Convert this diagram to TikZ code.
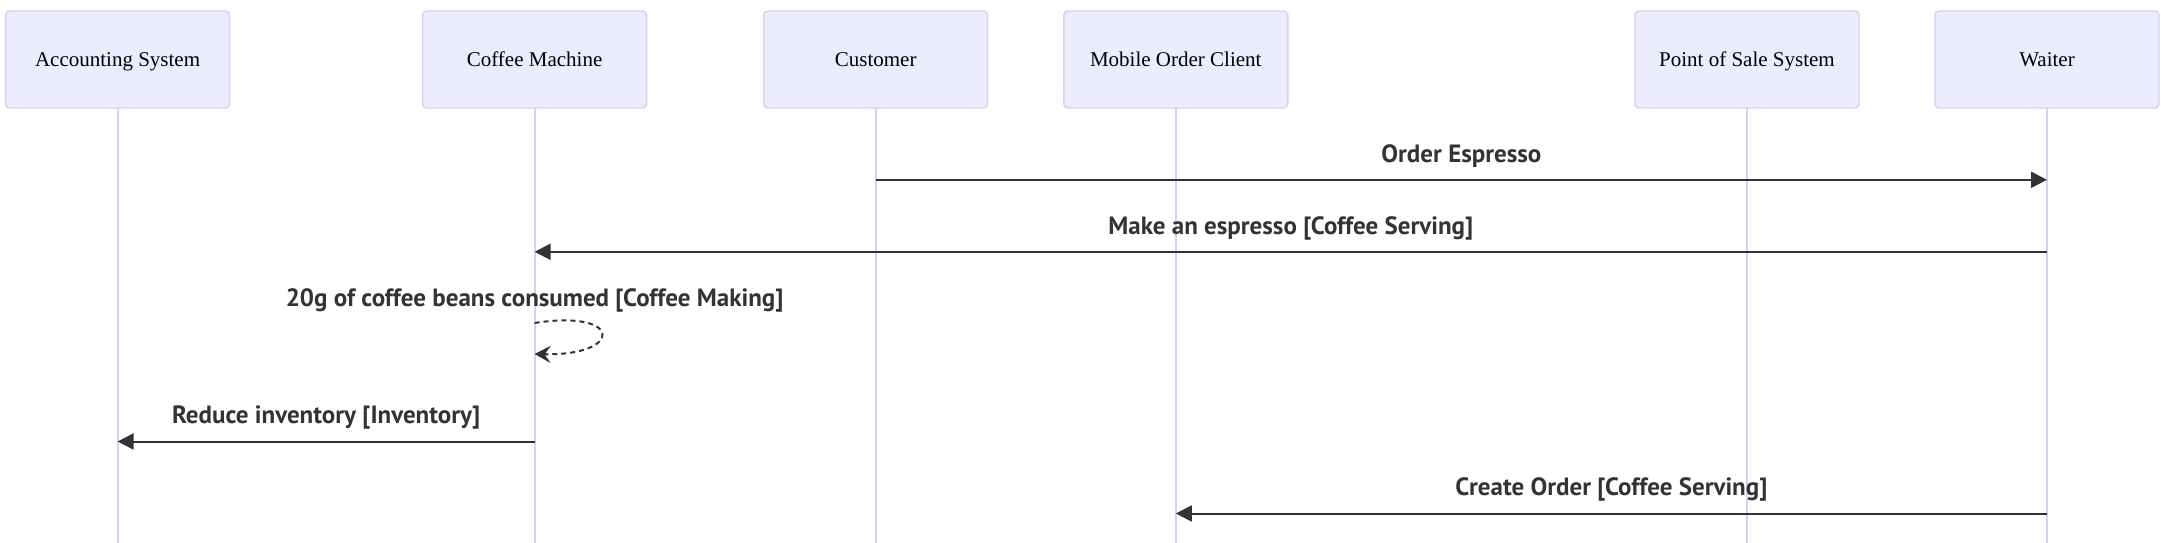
\documentclass[tikz,border=0pt]{standalone}
\usepackage{fontspec}
\setmainfont{Liberation Serif}
\newfontfamily\msgfont{PT Sans}
\usetikzlibrary{arrows.meta,calc}
\definecolor{actbg}{HTML}{ECECFF}
\definecolor{actborder}{RGB}{218,206,242}
\definecolor{lineclr}{HTML}{333333}
\tikzset{
  actor/.style={draw=actborder, line width=1.4pt, fill=actbg, rounded corners=4pt,
    minimum width=224pt, minimum height=97pt, inner sep=0pt,
    text height=14pt, text depth=0pt,
    font=\fontsize{21}{25}\selectfont, text=black},
  lifeline/.style={draw=actborder, line width=2.2pt},
  msg/.style={draw=lineclr, line width=2pt, -{Triangle[length=16pt,width=16pt]}},
  selfmsg/.style={draw=lineclr, line width=2pt, dash pattern=on 5pt off 4pt,
    -{Stealth[length=16pt,width=17pt,inset=6pt]}},
  msglabel/.style={font=\msgfont\bfseries\fontsize{25}{30}\selectfont, text=lineclr,
    inner sep=0pt, text height=18pt, text depth=0pt}
}
\begin{document}
\begin{tikzpicture}[x=1pt,y=-1pt]
\useasboundingbox (0,0) rectangle (2169,543);
% bottom coordinate for lifelines
\coordinate (bot) at (0,543);
% lifelines first (behind)
\coordinate (accL) at (117.6,108);
\coordinate (cofL) at (534.6,108);
\coordinate (cusL) at (875.7,108);
\coordinate (mobL) at (1175.8,108);
\coordinate (posL) at (1747,108);
\coordinate (waiL) at (2047,108);
\foreach \n in {accL,cofL,cusL,mobL,posL,waiL} {
  \draw[lifeline] (\n) -- (\n |- bot);
}
% actors
\node[actor] (acc) at (117.6,59.5) {Accounting System};
\node[actor] (cof) at (534.6,59.5) {Coffee Machine};
\node[actor] (cus) at (875.7,59.5) {Customer};
\node[actor] (mob) at (1175.8,59.5) {Mobile Order Client};
\node[actor] (pos) at (1747,59.5) {Point of Sale System};
\node[actor] (wai) at (2047,59.5) {Waiter};
% message y levels
\coordinate (y1) at (0,179.8);
\coordinate (y2) at (0,251.8);
\coordinate (y3) at (0,323);
\coordinate (y4) at (0,441.5);
\coordinate (y5) at (0,513.5);
% messages
\draw[msg] (cus |- y1) -- (wai |- y1);
\node[msglabel] (l1) at (1461.4,153) {Order Espresso};
\draw[msg] (wai |- y2) -- (cof |- y2);
\node[msglabel] (l2) at (1290.8,225) {Make an espresso [Coffee Serving]};
\coordinate (s0) at (cof |- y3);
\coordinate (s1) at ($(s0)+(0,31)$);
\draw[selfmsg] (s0) .. controls +(89,-14) and +(89,2) .. (s1);
\node[msglabel] (l3) at (534.6,297) {20g of coffee beans consumed [Coffee Making]};
\draw[msg] (cof |- y4) -- (acc |- y4);
\node[msglabel] (l4) at (326.1,414) {Reduce inventory [Inventory]};
\draw[msg] (wai |- y5) -- (mob |- y5);
\node[msglabel] (l5) at (1611.4,486) {Create Order [Coffee Serving]};
\end{tikzpicture}
\end{document}
